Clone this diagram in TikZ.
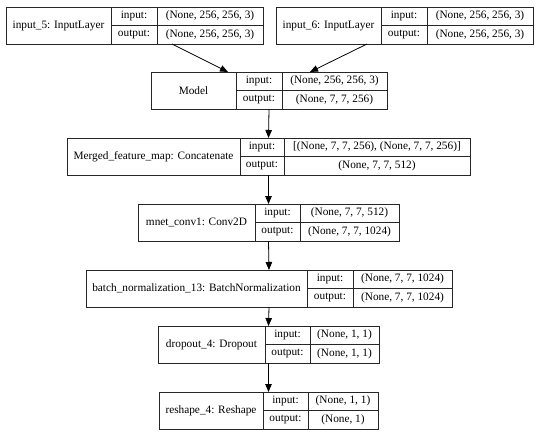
\documentclass[tikz,border=0pt]{standalone}
\usepackage{fontspec}
\setmainfont{Liberation Serif}
\usetikzlibrary{calc,arrows.meta}

% one layer: id, left, top, name width, key width, value width, name, input, output
\newcommand{\kerasbox}[9]{%
\node[namecell, minimum width=#4pt, anchor=north west] (#1) at (#2,#3) {#7};
\node[portcell, minimum width=#5pt, anchor=north west] (#1-inkey) at (#1.north east) {input:};
\node[portcell, minimum width=#5pt, anchor=north west] (#1-outkey) at (#1-inkey.south west) {output:};
\node[portcell, minimum width=#6pt, anchor=north west] (#1-in) at (#1-inkey.north east) {#8};
\node[portcell, minimum width=#6pt, anchor=north west] (#1-out) at (#1-outkey.north east) {#9};
\coordinate (#1-top) at ($(#1.north west)!0.5!(#1-in.north east)$);
\coordinate (#1-bot) at ($(#1.south west)!0.5!(#1-out.south east)$);
}

\begin{document}
\begin{tikzpicture}[x=1pt, y=-1pt, font=\fontsize{11.3}{13}\selectfont,
namecell/.style={rectangle, draw=black!85, line width=0.8pt, minimum height=37pt, inner sep=1pt, outer sep=0pt},
portcell/.style={rectangle, draw=black!85, line width=0.8pt, minimum height=18.5pt, inner sep=1pt, outer sep=0pt},
link/.style={-{Triangle[length=8pt,width=6.5pt]}, line width=0.8pt},
]
\useasboundingbox (0,0) rectangle (540,447);

%Layers
\kerasbox{in5}{6}{7}{105}{46}{106}{input\_5: InputLayer}{(None, 256, 256, 3)}{(None, 256, 256, 3)}
\kerasbox{in6}{276}{7}{105}{46}{106}{input\_6: InputLayer}{(None, 256, 256, 3)}{(None, 256, 256, 3)}
\kerasbox{model}{151}{72}{85}{46}{105}{Model}{(None, 256, 256, 3)}{(None, 7, 7, 256)}
\kerasbox{merged}{67}{138}{173}{44}{186}{Merged\_feature\_map: Concatenate}{[(None, 7, 7, 256), (None, 7, 7, 256)]}{(None, 7, 7, 512)}
\kerasbox{conv}{138}{204}{117}{45}{99}{mnet\_conv1: Conv2D}{(None, 7, 7, 512)}{(None, 7, 7, 1024)}
\kerasbox{bn}{86}{270}{221}{46}{99}{batch\_normalization\_13: BatchNormalization}{(None, 7, 7, 1024)}{(None, 7, 7, 1024)}
\kerasbox{drop}{158}{326}{107}{45}{69}{dropout\_4: Dropout}{(None, 1, 1)}{(None, 1, 1)}
\kerasbox{reshape}{159}{392}{104}{45}{70}{reshape\_4: Reshape}{(None, 1, 1)}{(None, 1)}

%Lines
\draw[link] ([xshift=15pt]in5-out.south west) -- ([xshift=-8pt]model.north east);
\draw[link] ([xshift=-14pt]in6.south east) -- ([xshift=28pt]model-in.north west);
\draw[link] (model-bot) -- (merged-top);
\draw[link] (merged-bot) -- (conv-top);
\draw[link] (conv-bot) -- (bn-top);
\draw[link] (bn-bot) -- (drop-top);
\draw[link] (drop-bot) -- (reshape-top);
\end{tikzpicture}
\end{document}
